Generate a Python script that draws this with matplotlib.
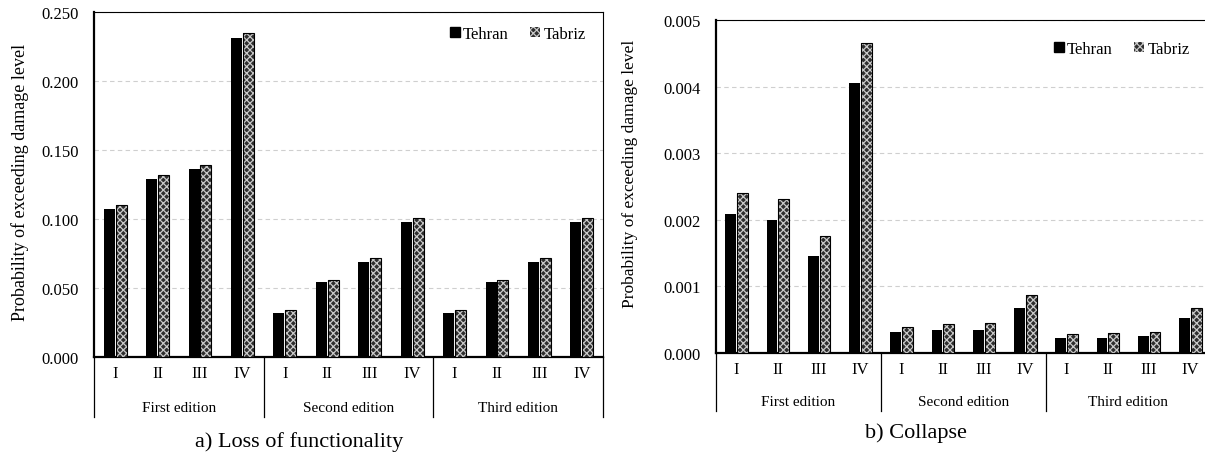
import numpy as np
import matplotlib
matplotlib.use("Agg")
import matplotlib.pyplot as plt
from matplotlib.patches import Patch
from matplotlib.lines import Line2D

plt.rcParams['font.family'] = ['Liberation Serif', 'DejaVu Serif']
plt.rcParams['hatch.linewidth'] = 0.9

levels = ['I', 'II', 'III', 'IV']
editions = ['First edition', 'Second edition', 'Third edition']

# a) Loss of functionality
lof_tehran = [0.107, 0.129, 0.136, 0.231,
              0.032, 0.054, 0.069, 0.098,
              0.032, 0.054, 0.069, 0.098]
lof_tabriz = [0.110, 0.132, 0.139, 0.235,
              0.034, 0.056, 0.072, 0.101,
              0.034, 0.056, 0.072, 0.101]

# b) Collapse
col_tehran = [0.00208, 0.00200, 0.00146, 0.00405,
              0.00031, 0.00034, 0.00035, 0.00068,
              0.00022, 0.00023, 0.00025, 0.00052]
col_tabriz = [0.00240, 0.00231, 0.00176, 0.00466,
              0.00039, 0.00044, 0.00045, 0.00087,
              0.00029, 0.00030, 0.00031, 0.00067]

W, H = 1205, 456
fig = plt.figure(figsize=(W / 100, H / 100), dpi=100)


def px_axes(l, t, r, b):
    return fig.add_axes([l / W, 1 - b / H, (r - l) / W, (b - t) / H])


def draw(ax, tehran, tabriz, ymax, step, hpx, row1, row2, lineb, leg_dx, leg_dy, wpx):
    x = np.arange(len(tehran))
    bw = 0.26
    ax.bar(x - bw / 2 - 0.01, tehran, bw, color='black', zorder=3)
    ax.bar(x + bw / 2 + 0.01, tabriz, bw, color='#2e2e2e', edgecolor='#c8c8c8',
           hatch='xxxxx', linewidth=0, zorder=3)
    ax.bar(x + bw / 2 + 0.01, tabriz, bw, facecolor='none', edgecolor='black',
           linewidth=0.8, zorder=4)
    ax.set_xlim(-0.5, len(tehran) - 0.5)
    ax.set_ylim(0, ymax)
    ticks = np.arange(0, ymax + step / 2, step)
    ax.set_yticks(ticks)
    ax.set_yticklabels(['%.3f' % t for t in ticks], fontsize=12)
    ax.tick_params(axis='y', length=0, pad=11)
    ax.set_xticks(x)
    ax.set_xticklabels(levels * 3, fontsize=12)
    ax.tick_params(axis='x', length=0, pad=6)
    ax.yaxis.grid(True, color='#cfcfcf', linestyle=(0, (4, 3)), linewidth=0.8)
    ax.set_axisbelow(True)
    for s in ['top', 'right']:
        ax.spines[s].set_linewidth(0.8)
    for s in ['left', 'bottom']:
        ax.spines[s].set_linewidth(1.6)
    tr = ax.get_xaxis_transform()
    for i, ed in enumerate(editions):
        ax.text(4 * i + 1.5, -row2 / hpx, ed, transform=tr, ha='center',
                va='center', fontsize=11)
    for xs in [-0.5, 3.5, 7.5, 11.5]:
        ax.add_line(Line2D([xs, xs], [0, -lineb / hpx], transform=tr,
                           color='black', linewidth=0.9, clip_on=False))
    handles = [Patch(facecolor='black', edgecolor='black'),
               Patch(facecolor='#2e2e2e', edgecolor='#c8c8c8', hatch='xxxxx', linewidth=0)]
    ax.legend(handles, ['Tehran', 'Tabriz'], loc='center right', ncol=2,
              bbox_to_anchor=(1 - leg_dx / wpx, 1 - leg_dy / hpx),
              frameon=False, fontsize=12, handlelength=0.6, handleheight=0.6,
              handletextpad=0.2, columnspacing=1.3, borderaxespad=0, borderpad=0)


ax1 = px_axes(94, 13, 603, 358)
draw(ax1, lof_tehran, lof_tabriz, 0.25, 0.05, 345, 19, 51, 60, 17, 22, 509)
ax2 = px_axes(716, 21, 1211, 354)
draw(ax2, col_tehran, col_tabriz, 0.005, 0.001, 333, 19, 49, 58, 21, 29, 495)

fig.text(20 / W, 1 - 182 / H, 'Probability of exceeding damage level',
         rotation=90, ha='center', va='center', fontsize=13)
fig.text(630 / W, 1 - 174 / H, 'Probability of exceeding damage level',
         rotation=90, ha='center', va='center', fontsize=12.5)
fig.text(299 / W, 1 - 442 / H, 'a) Loss of functionality', ha='center',
         va='center', fontsize=16)
fig.text(916 / W, 1 - 433 / H, 'b) Collapse', ha='center', va='center', fontsize=16)

fig.savefig('out.png', dpi=100)
